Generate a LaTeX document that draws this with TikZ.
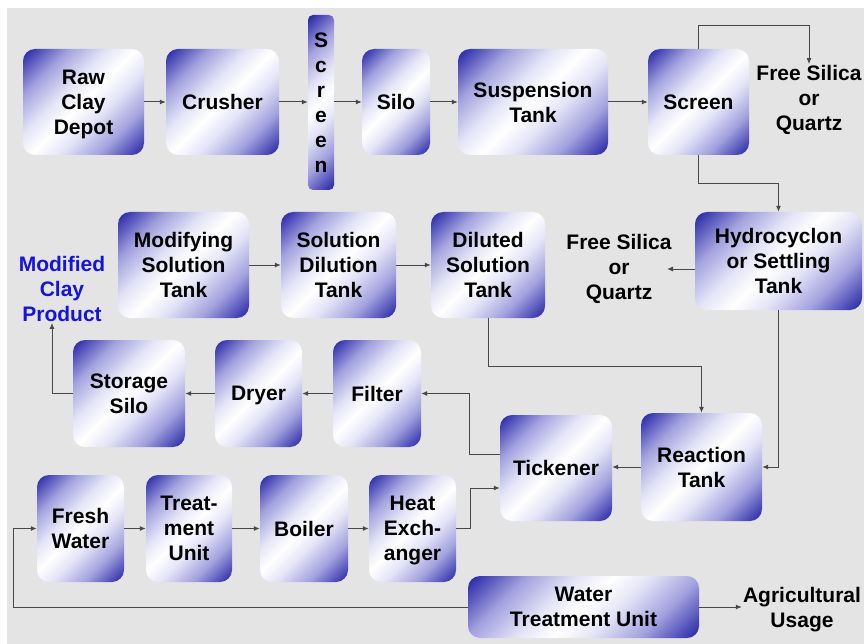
\documentclass[tikz,border=0pt]{standalone}
\usepackage{fontspec}
\setmainfont{Liberation Sans}
\usetikzlibrary{arrows.meta,calc}
\definecolor{bdark}{RGB}{36,36,166}
\definecolor{bmid}{RGB}{162,162,222}
\definecolor{blight}{RGB}{228,228,247}
\definecolor{bggray}{RGB}{228,228,228}
\definecolor{lnc}{RGB}{72,72,72}
\definecolor{prodblue}{RGB}{20,20,220}
\pgfdeclareverticalshading{boxshade}{100bp}{color(0bp)=(bdark); color(15bp)=(bdark); color(29bp)=(bmid); color(41bp)=(blight); color(50bp)=(white); color(59bp)=(blight); color(71bp)=(bmid); color(85bp)=(bdark); color(100bp)=(bdark)}
\tikzset{
  proc/.style={shading=boxshade, shading angle=45, rounded corners=12pt,
    inner sep=0pt, align=center, text=black, text depth=0pt,
    font=\fontsize{21}{25}\selectfont\bfseries},
  box/.style 2 args={proc, minimum width=#1pt, minimum height=#2pt},
  lbl/.style={align=center, inner sep=1pt, font=\fontsize{21}{25}\selectfont\bfseries},
  arr/.style={draw=lnc, line width=1pt, -{Latex[length=6pt,width=5pt]}}
}
\begin{document}
\begin{tikzpicture}[x=1pt,y=-1pt]
\useasboundingbox (0,0) rectangle (864,644);
\fill[white] (0,0) rectangle (864,644);
\fill[bggray] (7,8) rectangle (864,644);

% row 1
\node[box={121}{106}] (raw) at (83.5,102) {Raw\\Clay\\Depot};
\node[box={113}{106}] (crush) at (222.5,102) {Crusher};
\node[proc, minimum width=26pt, minimum height=175pt, rounded corners=5pt] (scr1) at (321,102.5) {S\\c\\r\\e\\e\\n};
\node[box={68}{106}] (silo) at (396,102) {Silo};
\node[box={150}{106}] (susp) at (533,102) {Suspension\\Tank};
\node[box={101}{106}] (scr2) at (698.5,102) {Screen};
\node[lbl] (fs1) at (809,100) {Free Silica\\or\\Quartz};

% row 2
\node[text=prodblue, lbl] (mcp) at (62,289) {Modified\\Clay\\Product};
\node[box={131}{106}] (modif) at (183.5,265) {Modifying\\Solution\\Tank};
\node[box={115}{106}] (sdil) at (338.5,265) {Solution\\Dilution\\Tank};
\node[box={114}{106}] (dil) at (488,265) {Diluted\\Solution\\Tank};
\node[lbl] (fs2) at (619,269) {Free Silica\\or\\Quartz};
\node[box={167}{98}] (hyd) at (778.5,261) {Hydrocyclon\\or Settling\\Tank};

% row 3
\node[box={112}{107}] (stor) at (129,393.5) {Storage\\Silo};
\node[box={87}{107}] (dry) at (258.5,393.5) {Dryer};
\node[box={88}{107}] (filt) at (377,393.5) {Filter};
\node[box={112}{106}] (tick) at (556,468) {Tickener};
\node[box={121}{108}] (react) at (701.5,467) {Reaction\\Tank};

% row 4
\node[box={87}{107}] (fresh) at (80.5,528.5) {Fresh\\Water};
\node[box={86}{107}] (treat) at (189,528.5) {Treat-\\ment\\Unit};
\node[box={88}{107}] (boil) at (304,528.5) {Boiler};
\node[box={87}{107}] (heat) at (412.5,528.5) {Heat\\Exch-\\anger};
\node[box={231}{62}] (wtu) at (583.5,607) {Water\\Treatment Unit};
\node[lbl] (agri) at (802,610) {Agricultural\\Usage};

% connectors row 1
\draw[arr] (raw) -- (crush);
\draw[arr] (crush.east) -- (crush.east -| scr1.west);
\draw[arr] (scr1.east |- silo.west) -- (silo.west);
\draw[arr] (silo) -- (susp);
\draw[arr] (susp) -- (scr2);
\draw[arr] (scr2.north) -- ++(0,-23) -| (fs1.north);
\draw[arr] (scr2.south) -- ++(0,28) -| (hyd.north);

% row 2
\draw[arr] (hyd.west |- fs2) -- ([xshift=48pt]fs2.center);
\draw[arr] (modif) -- (sdil);
\draw[arr] (sdil) -- (dil);
\draw[arr] (dil.south) -- ++(0,48) -| (react.north);
\draw[arr] (hyd.south) |- (react.east);

% row 3
\draw[arr] (react.west) -- (react.west -| tick.east);
\draw[arr] ([yshift=14pt]tick.west) -- ++(-30,0) |- (filt.east);
\draw[arr] (filt) -- (dry);
\draw[arr] (dry) -- (stor);
\draw[arr] (stor.west) -| ([xshift=-10pt]mcp.south);

% row 4
\draw[arr] (fresh) -- (treat);
\draw[arr] (treat) -- (boil);
\draw[arr] (boil) -- (heat);
\draw[arr] (heat.east) -- ++(14,0) |- ([yshift=-20pt]tick.west);
\draw[arr] (wtu.west) -- ++(-454,0) |- (fresh.west);
\draw[arr] (wtu.east) -- (wtu.east -| agri.west);
\end{tikzpicture}
\end{document}
